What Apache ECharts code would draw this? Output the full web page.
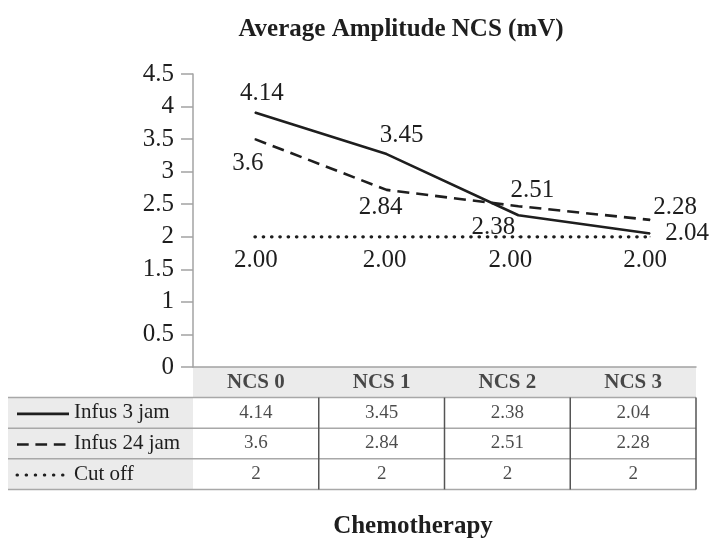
<!DOCTYPE html>
<html>
<head>
<meta charset="utf-8">
<script src="https://cdn.jsdelivr.net/npm/echarts@6/dist/echarts.min.js"></script>
<style>
html,body{margin:0;padding:0;background:#fff;}
#c{width:712px;height:542px;}
</style>
</head>
<body>
<div id="c"></div>
<script>
// ---- data ----
const categories = ['NCS 0', 'NCS 1', 'NCS 2', 'NCS 3'];
const seriesNames = ['Infus 3 jam', 'Infus 24 jam', 'Cut off'];
// values printed in the table / data labels
const infus3Values = [4.14, 3.45, 2.38, 2.04];
const infus24Values = [3.6, 2.84, 2.51, 2.28];
const cutoffValues = [2, 2, 2, 2];
// heights at which the lines are drawn in the reference picture
const infus3Drawn = [3.91, 3.27, 2.33, 2.05];
const infus24Drawn = [3.50, 2.72, 2.47, 2.26];
const cutoffDrawn = [2, 2, 2, 2];
const chartTitle = 'Average Amplitude NCS (mV)';
const xTitle = 'Chemotherapy';

// ---- layout / style ----
const FONT = '"Liberation Serif", "Times New Roman", serif';
const INK = '#1e1e1e';
const AXIS = '#a3a3a3';
const plotLeft = 193, plotTop = 74, plotBottom = 367;
const tableLeft = 193, tableRight = 696, outerLeft = 8;
const rowH = 30.6;
const tableBottom = plotBottom + rowH * 4;
const colW = (tableRight - tableLeft) / categories.length;
const labelOffsets = [
  [[7, -19], [15, -19], [-25, 12], [37, 0]],
  [[-7, 24], [-6, 18], [14, -16], [25, -12]],
  [[1, 24], [-2, 24], [-8, 24], [-5, 24]]
];
const lineStyles = [
  { type: 'solid', width: 2.6, cap: 'butt' },
  { type: [12, 7], width: 2.6, cap: 'butt' },
  { type: [0.5, 7.8], width: 3.2, cap: 'round' }
];

const drawn = [infus3Drawn, infus24Drawn, cutoffDrawn];
const printed = [infus3Values, infus24Values, cutoffValues];
const labelText = (s, i) => s === 2 ? printed[s][i].toFixed(2) : String(printed[s][i]);

const chart = echarts.init(document.getElementById('c'));

const series = [];
drawn.forEach((arr, s) => {
  series.push({
    name: seriesNames[s],
    type: 'line',
    xAxisIndex: 0, yAxisIndex: 0,
    symbol: 'circle', symbolSize: 1, showSymbol: true,
    itemStyle: { color: INK },
    lineStyle: Object.assign({ color: INK }, lineStyles[s]),
    label: {
      show: true, position: 'inside', color: INK,
      fontFamily: FONT, fontSize: 25,
      align: 'center', verticalAlign: 'middle'
    },
    data: arr.map((v, i) => ({
      value: [i, v],
      label: { offset: labelOffsets[s][i], formatter: labelText(s, i) }
    })),
    z: 3
  });
});
// table header
series.push({
  type: 'scatter', xAxisIndex: 1, yAxisIndex: 1,
  symbolSize: 1, itemStyle: { color: 'rgba(0,0,0,0)' },
  label: { show: true, position: 'inside', color: INK, fontFamily: FONT, fontSize: 21, fontWeight: 'bold',
    formatter: p => categories[p.value[0]] },
  data: categories.map((c, i) => [i, 0]), z: 5
});
// table cells
const cellData = [];
printed.forEach((arr, s) => arr.forEach((v, i) => cellData.push({ value: [i, s + 1], txt: String(v) })));
series.push({
  type: 'scatter', xAxisIndex: 1, yAxisIndex: 1,
  symbolSize: 1, itemStyle: { color: 'rgba(0,0,0,0)' },
  label: { show: true, position: 'inside', color: INK, fontFamily: FONT, fontSize: 19,
    formatter: p => p.data.txt },
  data: cellData, z: 5
});

// graphic: backgrounds, table rules, legend keys, titles
const g = [];
g.push({ type: 'rect', z: -10, shape: { x: tableLeft, y: plotBottom, width: tableRight - tableLeft, height: rowH }, style: { fill: '#ebebeb' } });
g.push({ type: 'rect', z: -10, shape: { x: outerLeft, y: plotBottom + rowH, width: tableLeft - outerLeft, height: rowH * 3 }, style: { fill: '#ebebeb' } });
for (let r = 1; r <= 4; r++) {
  const y = plotBottom + rowH * r;
  g.push({ type: 'line', z: 10, shape: { x1: outerLeft, y1: y, x2: tableRight, y2: y }, style: { stroke: '#a8a8a8', lineWidth: 1.5 } });
}
for (let c = 1; c <= categories.length; c++) {
  const x = tableLeft + colW * c;
  g.push({ type: 'line', z: 10, shape: { x1: x, y1: plotBottom + rowH, x2: x, y2: tableBottom }, style: { stroke: '#555', lineWidth: 1.5 } });
}
const keyDash = [null, [11.7, 6.7], [0.5, 8.6]];
for (let s = 0; s < 3; s++) {
  const y = plotBottom + rowH * (s + 1.5) + 1;
  g.push({ type: 'line', z: 10, shape: { x1: 17, y1: y, x2: 69, y2: y },
    style: { stroke: INK, lineWidth: s === 2 ? 3 : 2.6, lineDash: keyDash[s], lineCap: s === 2 ? 'round' : 'butt' } });
}
g.push({ type: 'text', z: 10, style: { x: 401, y: 30, text: chartTitle, fill: INK, font: 'bold 25px ' + FONT, align: 'center', verticalAlign: 'middle' } });
g.push({ type: 'text', z: 10, style: { x: 413, y: 527, text: xTitle, fill: INK, font: 'bold 25px ' + FONT, align: 'center', verticalAlign: 'middle' } });

chart.setOption({
  animation: false,
  backgroundColor: '#fff',
  grid: [
    { left: plotLeft, top: plotTop, width: 712 - plotLeft, height: plotBottom - plotTop },
    { left: tableLeft, top: plotBottom, width: tableRight - tableLeft, height: rowH * 4 }
  ],
  xAxis: [
    { gridIndex: 0, type: 'value', min: -0.47, max: 3.47, show: false },
    { gridIndex: 1, type: 'category', data: categories, position: 'top',
      axisLine: { show: true, lineStyle: { color: AXIS, width: 1.5 } },
      axisTick: { show: false }, axisLabel: { show: false }, splitLine: { show: false } }
  ],
  yAxis: [
    { gridIndex: 0, type: 'value', min: 0, max: 4.5, interval: 0.5, position: 'left',
      axisLine: { show: true, onZero: false, lineStyle: { color: AXIS, width: 1.5 } },
      axisTick: { show: true, length: 12, lineStyle: { color: AXIS, width: 1.5 } },
      splitLine: { show: false },
      axisLabel: { margin: 19, color: INK, fontFamily: FONT, fontSize: 25 } },
    { gridIndex: 1, type: 'category', inverse: true, data: [''].concat(seriesNames),
      axisLine: { show: false }, axisTick: { show: false }, splitLine: { show: false },
      axisLabel: { align: 'left', margin: tableLeft - 74, color: INK, fontFamily: FONT, fontSize: 21 } }
  ],
  series: series,
  graphic: g
});
</script>
</body>
</html>
